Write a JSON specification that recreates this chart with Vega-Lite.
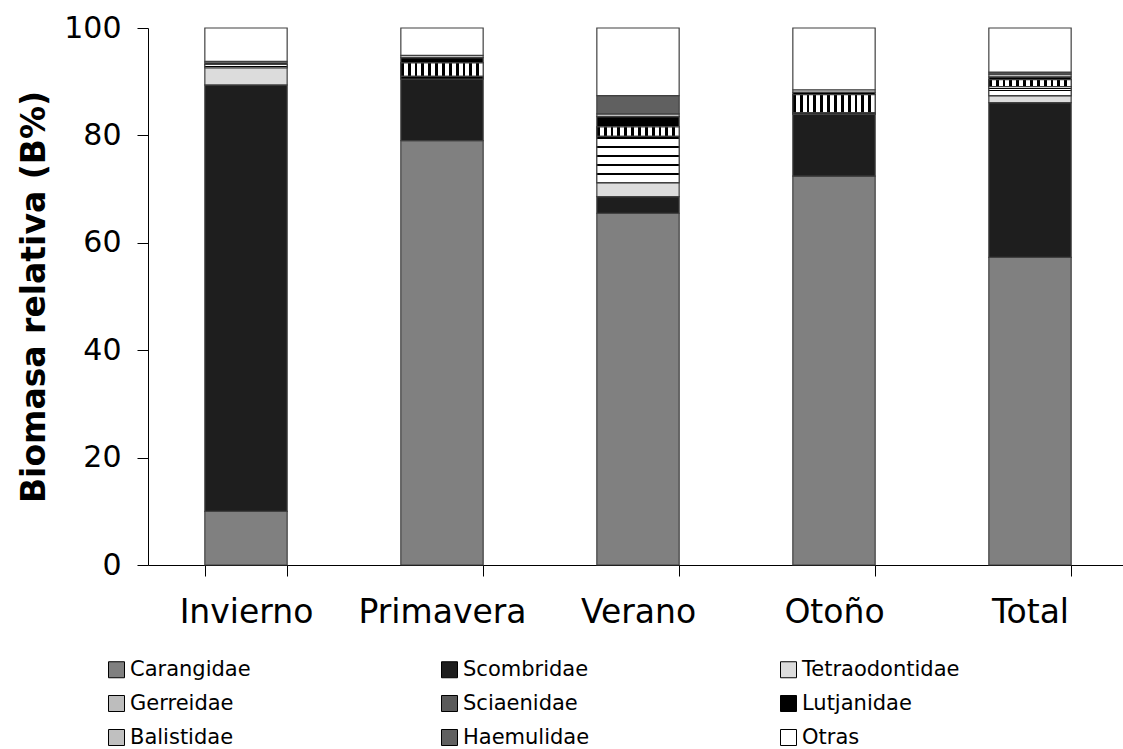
{
  "$schema": "https://vega.github.io/schema/vega-lite/v6.json",
  "width": 980,
  "height": 537,
  "autosize": {"type": "none"},
  "padding": {"left": 148, "top": 28, "right": 0, "bottom": 184},
  "background": "white",
  "config": {
    "font": "DejaVu Sans",
    "view": {"stroke": null},
    "axis": {"grid": false, "domainColor": "#000000", "tickColor": "#000000", "labelColor": "#000000", "titleColor": "#000000", "domainWidth": 1, "tickWidth": 1}
  },
  "data": {
    "values": [
      {"estacion": "Invierno", "familia": "Carangidae", "biomasa": 10.0},
      {"estacion": "Invierno", "familia": "Scombridae", "biomasa": 79.4},
      {"estacion": "Invierno", "familia": "Tetraodontidae", "biomasa": 3.2},
      {"estacion": "Invierno", "familia": "Gerreidae", "biomasa": 0.6},
      {"estacion": "Invierno", "familia": "Lutjanidae", "biomasa": 0.3},
      {"estacion": "Invierno", "familia": "Balistidae", "biomasa": 0.3},
      {"estacion": "Invierno", "familia": "Otras", "biomasa": 6.2},
      {"estacion": "Primavera", "familia": "Carangidae", "biomasa": 79.0},
      {"estacion": "Primavera", "familia": "Scombridae", "biomasa": 11.5},
      {"estacion": "Primavera", "familia": "Gerreidae", "biomasa": 0.5},
      {"estacion": "Primavera", "familia": "Sciaenidae", "biomasa": 2.5},
      {"estacion": "Primavera", "familia": "Lutjanidae", "biomasa": 1.0},
      {"estacion": "Primavera", "familia": "Balistidae", "biomasa": 0.4},
      {"estacion": "Primavera", "familia": "Otras", "biomasa": 5.1},
      {"estacion": "Verano", "familia": "Carangidae", "biomasa": 65.5},
      {"estacion": "Verano", "familia": "Scombridae", "biomasa": 3.1},
      {"estacion": "Verano", "familia": "Tetraodontidae", "biomasa": 2.6},
      {"estacion": "Verano", "familia": "Gerreidae", "biomasa": 8.6},
      {"estacion": "Verano", "familia": "Sciaenidae", "biomasa": 1.8},
      {"estacion": "Verano", "familia": "Lutjanidae", "biomasa": 1.9},
      {"estacion": "Verano", "familia": "Balistidae", "biomasa": 0.5},
      {"estacion": "Verano", "familia": "Haemulidae", "biomasa": 3.4},
      {"estacion": "Verano", "familia": "Otras", "biomasa": 12.6},
      {"estacion": "Otoño", "familia": "Carangidae", "biomasa": 72.4},
      {"estacion": "Otoño", "familia": "Scombridae", "biomasa": 11.5},
      {"estacion": "Otoño", "familia": "Gerreidae", "biomasa": 0.3},
      {"estacion": "Otoño", "familia": "Sciaenidae", "biomasa": 3.4},
      {"estacion": "Otoño", "familia": "Lutjanidae", "biomasa": 0.4},
      {"estacion": "Otoño", "familia": "Balistidae", "biomasa": 0.5},
      {"estacion": "Otoño", "familia": "Otras", "biomasa": 11.5},
      {"estacion": "Total", "familia": "Carangidae", "biomasa": 57.3},
      {"estacion": "Total", "familia": "Scombridae", "biomasa": 28.8},
      {"estacion": "Total", "familia": "Tetraodontidae", "biomasa": 1.3},
      {"estacion": "Total", "familia": "Gerreidae", "biomasa": 1.7},
      {"estacion": "Total", "familia": "Sciaenidae", "biomasa": 1.3},
      {"estacion": "Total", "familia": "Lutjanidae", "biomasa": 0.5},
      {"estacion": "Total", "familia": "Balistidae", "biomasa": 0.5},
      {"estacion": "Total", "familia": "Haemulidae", "biomasa": 0.4},
      {"estacion": "Total", "familia": "Otras", "biomasa": 8.2}
    ]
  },
  "transform": [
    {"calculate": "indexof(['Carangidae','Scombridae','Tetraodontidae','Gerreidae','Sciaenidae','Lutjanidae','Balistidae','Haemulidae','Otras'], datum.familia)", "as": "orden"},
    {"stack": "biomasa", "groupby": ["estacion"], "sort": [{"field": "orden", "order": "ascending"}], "as": ["b0", "b1"]}
  ],
  "encoding": {
    "x": {
      "field": "estacion",
      "type": "nominal",
      "sort": ["Invierno", "Primavera", "Verano", "Otoño", "Total"],
      "scale": {"paddingInner": 0.58, "paddingOuter": 0.29},
      "axis": {"title": null, "labelAngle": 0, "labelFontSize": 33, "labelPadding": 20, "tickSize": 11, "tickBand": "extent"}
    },
    "y": {
      "field": "b0",
      "type": "quantitative",
      "scale": {"domain": [0, 100], "nice": false},
      "axis": {"title": "Biomasa relativa (B%)", "titleFontSize": 33, "titleFontWeight": "bold", "titlePadding": 12, "labelFontSize": 30, "labelPadding": 16, "tickSize": 11, "values": [0, 20, 40, 60, 80, 100]}
    },
    "y2": {"field": "b1"}
  },
  "layer": [
    {
      "mark": {"type": "bar", "stroke": "#404040", "strokeWidth": 1.2},
      "encoding": {
        "color": {
          "field": "familia",
          "type": "nominal",
          "sort": ["Carangidae", "Scombridae", "Tetraodontidae", "Gerreidae", "Sciaenidae", "Lutjanidae", "Balistidae", "Haemulidae", "Otras"],
          "scale": {
            "domain": ["Carangidae", "Scombridae", "Tetraodontidae", "Gerreidae", "Sciaenidae", "Lutjanidae", "Balistidae", "Haemulidae", "Otras"],
            "range": ["#808080", "#1e1e1e", "#dcdcdc", "#bdbdbd", "#5a5a5a", "#000000", "#c0c0c0", "#606060", "#ffffff"]
          },
          "legend": {
            "title": null,
            "orient": "none",
            "legendX": -42,
            "legendY": 631,
            "columns": 3,
            "direction": "horizontal",
            "symbolType": "square",
            "symbolSize": 256,
            "symbolStrokeColor": "#000000",
            "symbolStrokeWidth": 1,
            "labelFontSize": 21,
            "labelColor": "#000000",
            "labelOffset": 3,
            "columnPadding": 188,
            "rowPadding": 12,
            "labelLimit": 300
          }
        }
      }
    },
    {
      "transform": [{"filter": "datum.familia === 'Sciaenidae'"}],
      "mark": {
        "type": "bar",
        "stroke": "#404040",
        "strokeWidth": 1.2,
        "fill": {
          "gradient": "linear", "x1": 0, "x2": 1, "y1": 0, "y2": 0,
          "stops": [
            {"offset": 0, "color": "#000000"}, {"offset": 0.035, "color": "#000000"}, {"offset": 0.035, "color": "#ffffff"}, {"offset": 0.0833, "color": "#ffffff"},
            {"offset": 0.0833, "color": "#000000"}, {"offset": 0.1183, "color": "#000000"}, {"offset": 0.1183, "color": "#ffffff"}, {"offset": 0.1667, "color": "#ffffff"},
            {"offset": 0.1667, "color": "#000000"}, {"offset": 0.2017, "color": "#000000"}, {"offset": 0.2017, "color": "#ffffff"}, {"offset": 0.25, "color": "#ffffff"},
            {"offset": 0.25, "color": "#000000"}, {"offset": 0.285, "color": "#000000"}, {"offset": 0.285, "color": "#ffffff"}, {"offset": 0.3333, "color": "#ffffff"},
            {"offset": 0.3333, "color": "#000000"}, {"offset": 0.3683, "color": "#000000"}, {"offset": 0.3683, "color": "#ffffff"}, {"offset": 0.4167, "color": "#ffffff"},
            {"offset": 0.4167, "color": "#000000"}, {"offset": 0.4517, "color": "#000000"}, {"offset": 0.4517, "color": "#ffffff"}, {"offset": 0.5, "color": "#ffffff"},
            {"offset": 0.5, "color": "#000000"}, {"offset": 0.535, "color": "#000000"}, {"offset": 0.535, "color": "#ffffff"}, {"offset": 0.5833, "color": "#ffffff"},
            {"offset": 0.5833, "color": "#000000"}, {"offset": 0.6183, "color": "#000000"}, {"offset": 0.6183, "color": "#ffffff"}, {"offset": 0.6667, "color": "#ffffff"},
            {"offset": 0.6667, "color": "#000000"}, {"offset": 0.7017, "color": "#000000"}, {"offset": 0.7017, "color": "#ffffff"}, {"offset": 0.75, "color": "#ffffff"},
            {"offset": 0.75, "color": "#000000"}, {"offset": 0.785, "color": "#000000"}, {"offset": 0.785, "color": "#ffffff"}, {"offset": 0.8333, "color": "#ffffff"},
            {"offset": 0.8333, "color": "#000000"}, {"offset": 0.8683, "color": "#000000"}, {"offset": 0.8683, "color": "#ffffff"}, {"offset": 0.9167, "color": "#ffffff"},
            {"offset": 0.9167, "color": "#000000"}, {"offset": 0.9517, "color": "#000000"}, {"offset": 0.9517, "color": "#ffffff"}, {"offset": 1, "color": "#ffffff"}
          ]
        }
      }
    },
    {
      "transform": [{"filter": "datum.familia === 'Gerreidae'"}],
      "mark": {
        "type": "bar",
        "stroke": "#404040",
        "strokeWidth": 1.2,
        "fill": {
          "gradient": "linear", "x1": 0, "x2": 0, "y1": 0, "y2": 1,
          "stops": [
            {"offset": 0, "color": "#000000"}, {"offset": 0.045, "color": "#000000"}, {"offset": 0.045, "color": "#ffffff"}, {"offset": 0.2, "color": "#ffffff"},
            {"offset": 0.2, "color": "#000000"}, {"offset": 0.245, "color": "#000000"}, {"offset": 0.245, "color": "#ffffff"}, {"offset": 0.4, "color": "#ffffff"},
            {"offset": 0.4, "color": "#000000"}, {"offset": 0.445, "color": "#000000"}, {"offset": 0.445, "color": "#ffffff"}, {"offset": 0.6, "color": "#ffffff"},
            {"offset": 0.6, "color": "#000000"}, {"offset": 0.645, "color": "#000000"}, {"offset": 0.645, "color": "#ffffff"}, {"offset": 0.8, "color": "#ffffff"},
            {"offset": 0.8, "color": "#000000"}, {"offset": 0.845, "color": "#000000"}, {"offset": 0.845, "color": "#ffffff"}, {"offset": 1, "color": "#ffffff"}
          ]
        }
      }
    }
  ]
}
